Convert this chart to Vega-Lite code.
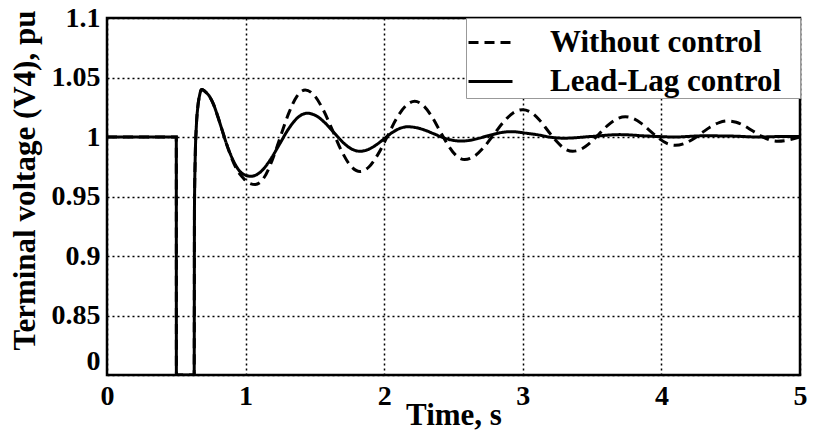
{
  "$schema": "https://vega.github.io/schema/vega-lite/v6.json",
  "width": 693,
  "height": 357,
  "autosize": "none",
  "padding": {"left": 107, "top": 18, "right": 13, "bottom": 58},
  "background": "white",
  "config": {
    "font": "Liberation Serif",
    "view": {"stroke": "black", "strokeWidth": 2.5},
    "axis": {
      "domain": false, "ticks": false,
      "grid": true, "gridColor": "black", "gridDash": [2, 3], "gridWidth": 1.5, "gridOpacity": 1
    }
  },
  "data": {
    "values": [
      {"t": 0, "v": 1, "s": "Lead-Lag control"},
      {"t": 0.5, "v": 1, "s": "Lead-Lag control"},
      {"t": 0.5005, "v": 0, "s": "Lead-Lag control"},
      {"t": 0.629, "v": 0, "s": "Lead-Lag control"},
      {"t": 0.631, "v": 0.94, "s": "Lead-Lag control"},
      {"t": 0.636, "v": 0.98, "s": "Lead-Lag control"},
      {"t": 0.645, "v": 1.01, "s": "Lead-Lag control"},
      {"t": 0.655, "v": 1.025, "s": "Lead-Lag control"},
      {"t": 0.668, "v": 1.035, "s": "Lead-Lag control"},
      {"t": 0.683, "v": 1.04, "s": "Lead-Lag control"},
      {"t": 0.71, "v": 1.038, "s": "Lead-Lag control"},
      {"t": 0.74, "v": 1.034, "s": "Lead-Lag control"},
      {"t": 0.77, "v": 1.027, "s": "Lead-Lag control"},
      {"t": 0.80, "v": 1.017, "s": "Lead-Lag control"},
      {"t": 0.83, "v": 1.006, "s": "Lead-Lag control"},
      {"t": 0.86, "v": 0.995, "s": "Lead-Lag control"},
      {"t": 0.90, "v": 0.983, "s": "Lead-Lag control"},
      {"t": 0.94, "v": 0.974, "s": "Lead-Lag control"},
      {"t": 0.98, "v": 0.969, "s": "Lead-Lag control"},
      {"t": 1.04, "v": 0.967, "s": "Lead-Lag control"},
      {"t": 1.1075, "v": 0.9706, "s": "Lead-Lag control"},
      {"t": 1.175, "v": 0.9803, "s": "Lead-Lag control"},
      {"t": 1.2425, "v": 0.9935, "s": "Lead-Lag control"},
      {"t": 1.31, "v": 1.0068, "s": "Lead-Lag control"},
      {"t": 1.3775, "v": 1.0165, "s": "Lead-Lag control"},
      {"t": 1.445, "v": 1.02, "s": "Lead-Lag control"},
      {"t": 1.508, "v": 1.0179, "s": "Lead-Lag control"},
      {"t": 1.572, "v": 1.012, "s": "Lead-Lag control"},
      {"t": 1.635, "v": 1.004, "s": "Lead-Lag control"},
      {"t": 1.698, "v": 0.996, "s": "Lead-Lag control"},
      {"t": 1.762, "v": 0.9901, "s": "Lead-Lag control"},
      {"t": 1.825, "v": 0.988, "s": "Lead-Lag control"},
      {"t": 1.8825, "v": 0.9894, "s": "Lead-Lag control"},
      {"t": 1.94, "v": 0.9932, "s": "Lead-Lag control"},
      {"t": 1.9975, "v": 0.9983, "s": "Lead-Lag control"},
      {"t": 2.055, "v": 1.0035, "s": "Lead-Lag control"},
      {"t": 2.1125, "v": 1.0072, "s": "Lead-Lag control"},
      {"t": 2.17, "v": 1.0086, "s": "Lead-Lag control"},
      {"t": 2.233, "v": 1.0078, "s": "Lead-Lag control"},
      {"t": 2.297, "v": 1.0056, "s": "Lead-Lag control"},
      {"t": 2.36, "v": 1.0026, "s": "Lead-Lag control"},
      {"t": 2.423, "v": 0.9996, "s": "Lead-Lag control"},
      {"t": 2.487, "v": 0.9974, "s": "Lead-Lag control"},
      {"t": 2.55, "v": 0.9966, "s": "Lead-Lag control"},
      {"t": 2.612, "v": 0.9971, "s": "Lead-Lag control"},
      {"t": 2.673, "v": 0.9986, "s": "Lead-Lag control"},
      {"t": 2.735, "v": 1.0006, "s": "Lead-Lag control"},
      {"t": 2.797, "v": 1.0025, "s": "Lead-Lag control"},
      {"t": 2.858, "v": 1.004, "s": "Lead-Lag control"},
      {"t": 2.92, "v": 1.0045, "s": "Lead-Lag control"},
      {"t": 3.03, "v": 1.0031, "s": "Lead-Lag control"},
      {"t": 3.11, "v": 1.0018, "s": "Lead-Lag control"},
      {"t": 3.2, "v": 0.9998, "s": "Lead-Lag control"},
      {"t": 3.3, "v": 0.999, "s": "Lead-Lag control"},
      {"t": 3.5, "v": 1.0005, "s": "Lead-Lag control"},
      {"t": 3.7, "v": 1.002, "s": "Lead-Lag control"},
      {"t": 3.9, "v": 1.0008, "s": "Lead-Lag control"},
      {"t": 4.1, "v": 1.0, "s": "Lead-Lag control"},
      {"t": 4.3, "v": 1.001, "s": "Lead-Lag control"},
      {"t": 4.5, "v": 1.0008, "s": "Lead-Lag control"},
      {"t": 4.7, "v": 1.0, "s": "Lead-Lag control"},
      {"t": 4.9, "v": 1.0005, "s": "Lead-Lag control"},
      {"t": 5.0, "v": 1.0005, "s": "Lead-Lag control"},

      {"t": 0, "v": 1, "s": "Without control"},
      {"t": 0.5, "v": 1, "s": "Without control"},
      {"t": 0.5005, "v": 0, "s": "Without control"},
      {"t": 0.629, "v": 0, "s": "Without control"},
      {"t": 0.631, "v": 0.94, "s": "Without control"},
      {"t": 0.636, "v": 0.98, "s": "Without control"},
      {"t": 0.645, "v": 1.01, "s": "Without control"},
      {"t": 0.655, "v": 1.025, "s": "Without control"},
      {"t": 0.668, "v": 1.035, "s": "Without control"},
      {"t": 0.683, "v": 1.04, "s": "Without control"},
      {"t": 0.71, "v": 1.038, "s": "Without control"},
      {"t": 0.74, "v": 1.034, "s": "Without control"},
      {"t": 0.77, "v": 1.027, "s": "Without control"},
      {"t": 0.80, "v": 1.017, "s": "Without control"},
      {"t": 0.83, "v": 1.006, "s": "Without control"},
      {"t": 0.86, "v": 0.995, "s": "Without control"},
      {"t": 0.90, "v": 0.982, "s": "Without control"},
      {"t": 0.94, "v": 0.972, "s": "Without control"},
      {"t": 0.98, "v": 0.966, "s": "Without control"},
      {"t": 1.02, "v": 0.9615, "s": "Without control"},
      {"t": 1.07, "v": 0.96, "s": "Without control"},
      {"t": 1.13, "v": 0.9653, "s": "Without control"},
      {"t": 1.19, "v": 0.9799, "s": "Without control"},
      {"t": 1.25, "v": 0.9998, "s": "Without control"},
      {"t": 1.31, "v": 1.0196, "s": "Without control"},
      {"t": 1.37, "v": 1.0342, "s": "Without control"},
      {"t": 1.43, "v": 1.0395, "s": "Without control"},
      {"t": 1.496, "v": 1.0349, "s": "Without control"},
      {"t": 1.562, "v": 1.0224, "s": "Without control"},
      {"t": 1.628, "v": 1.0053, "s": "Without control"},
      {"t": 1.693, "v": 0.9881, "s": "Without control"},
      {"t": 1.759, "v": 0.9756, "s": "Without control"},
      {"t": 1.825, "v": 0.971, "s": "Without control"},
      {"t": 1.891, "v": 0.975, "s": "Without control"},
      {"t": 1.957, "v": 0.9858, "s": "Without control"},
      {"t": 2.023, "v": 1.0005, "s": "Without control"},
      {"t": 2.088, "v": 1.0153, "s": "Without control"},
      {"t": 2.154, "v": 1.026, "s": "Without control"},
      {"t": 2.22, "v": 1.03, "s": "Without control"},
      {"t": 2.28, "v": 1.0267, "s": "Without control"},
      {"t": 2.34, "v": 1.0178, "s": "Without control"},
      {"t": 2.40, "v": 1.0055, "s": "Without control"},
      {"t": 2.46, "v": 0.9933, "s": "Without control"},
      {"t": 2.52, "v": 0.9843, "s": "Without control"},
      {"t": 2.58, "v": 0.981, "s": "Without control"},
      {"t": 2.65, "v": 0.9838, "s": "Without control"},
      {"t": 2.72, "v": 0.9915, "s": "Without control"},
      {"t": 2.79, "v": 1.002, "s": "Without control"},
      {"t": 2.86, "v": 1.0125, "s": "Without control"},
      {"t": 2.93, "v": 1.0202, "s": "Without control"},
      {"t": 3.0, "v": 1.023, "s": "Without control"},
      {"t": 3.06, "v": 1.0207, "s": "Without control"},
      {"t": 3.12, "v": 1.0143, "s": "Without control"},
      {"t": 3.18, "v": 1.0055, "s": "Without control"},
      {"t": 3.24, "v": 0.9968, "s": "Without control"},
      {"t": 3.30, "v": 0.9903, "s": "Without control"},
      {"t": 3.36, "v": 0.988, "s": "Without control"},
      {"t": 3.423, "v": 0.9899, "s": "Without control"},
      {"t": 3.487, "v": 0.9953, "s": "Without control"},
      {"t": 3.55, "v": 1.0025, "s": "Without control"},
      {"t": 3.613, "v": 1.0098, "s": "Without control"},
      {"t": 3.677, "v": 1.0151, "s": "Without control"},
      {"t": 3.74, "v": 1.017, "s": "Without control"},
      {"t": 3.80, "v": 1.0154, "s": "Without control"},
      {"t": 3.86, "v": 1.011, "s": "Without control"},
      {"t": 3.92, "v": 1.005, "s": "Without control"},
      {"t": 3.98, "v": 0.999, "s": "Without control"},
      {"t": 4.04, "v": 0.9946, "s": "Without control"},
      {"t": 4.10, "v": 0.993, "s": "Without control"},
      {"t": 4.163, "v": 0.9944, "s": "Without control"},
      {"t": 4.227, "v": 0.9981, "s": "Without control"},
      {"t": 4.29, "v": 1.0033, "s": "Without control"},
      {"t": 4.353, "v": 1.0084, "s": "Without control"},
      {"t": 4.417, "v": 1.0121, "s": "Without control"},
      {"t": 4.48, "v": 1.0135, "s": "Without control"},
      {"t": 4.54, "v": 1.0124, "s": "Without control"},
      {"t": 4.60, "v": 1.0093, "s": "Without control"},
      {"t": 4.66, "v": 1.005, "s": "Without control"},
      {"t": 4.72, "v": 1.0008, "s": "Without control"},
      {"t": 4.78, "v": 0.9976, "s": "Without control"},
      {"t": 4.84, "v": 0.9965, "s": "Without control"},
      {"t": 4.92, "v": 0.9975, "s": "Without control"},
      {"t": 5.0, "v": 1.0, "s": "Without control"}
    ]
  },
  "mark": {"type": "line", "interpolate": "monotone", "strokeWidth": 3, "color": "black", "clip": true},
  "encoding": {
    "x": {
      "field": "t", "type": "quantitative",
      "scale": {"domain": [0, 5], "nice": false, "zero": false},
      "axis": {
        "values": [0, 1, 2, 3, 4, 5], "title": "Time, s",
        "labelFont": "Liberation Serif", "labelFontWeight": "bold", "labelFontSize": 28, "labelColor": "black",
        "titleFont": "Liberation Serif", "titleFontWeight": "bold", "titleFontSize": 31, "titleColor": "black",
        "labelPadding": 7, "titlePadding": -10, "labelFlush": false, "labelBound": false
      }
    },
    "y": {
      "field": "v", "type": "quantitative",
      "scale": {"domain": [0, 0.8, 1.1], "range": [357, 357, 0], "nice": false, "zero": false},
      "axis": {
        "values": [0, 0.85, 0.9, 0.95, 1, 1.05, 1.1],
        "labelExpr": "'' + datum.value",
        "title": "Terminal voltage (V4), pu",
        "labelFont": "Liberation Serif", "labelFontWeight": "bold", "labelFontSize": 28, "labelColor": "black",
        "titleFont": "Liberation Serif", "titleFontWeight": "bold", "titleFontSize": 31, "titleColor": "black",
        "labelPadding": 7, "titleX": -97, "titleY": 162, "titleBaseline": "top", "titleAlign": "center", "titleAngle": -90,
        "labelBaseline": {"condition": {"test": "datum.value == 0", "value": "bottom"}, "value": "middle"}
      }
    },
    "strokeDash": {
      "field": "s", "type": "nominal",
      "scale": {"domain": ["Without control", "Lead-Lag control"], "range": [[10, 6], [1, 0]]},
      "legend": {
        "title": " ", "titleOrient": "right", "titlePadding": 18, "titleFontSize": 4,
        "orient": "top-right", "offset": 0,
        "fillColor": "white", "strokeColor": "#999999", "padding": 1,
        "symbolType": "stroke", "symbolSize": 1936, "symbolStrokeWidth": 3, "symbolStrokeColor": "black",
        "labelFont": "Liberation Serif", "labelFontWeight": "bold", "labelFontSize": 31, "labelColor": "black",
        "labelLimit": 0, "labelOffset": 36, "rowPadding": -10
      }
    }
  }
}
